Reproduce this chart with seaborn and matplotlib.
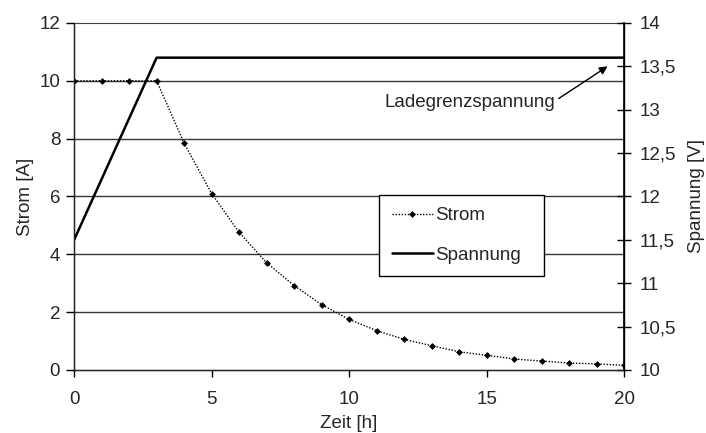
import numpy as np
import pandas as pd
import matplotlib
matplotlib.use("Agg")
import matplotlib.pyplot as plt
import seaborn as sns

# --- Data ---
zeit = list(range(0, 21))
strom = [10, 10, 10, 10, 7.84, 6.1, 4.76, 3.71, 2.92, 2.26, 1.75,
         1.36, 1.06, 0.84, 0.63, 0.51, 0.38, 0.31, 0.24, 0.21, 0.16]
spannung_zeit = [0, 3, 20]
spannung = [11.5, 13.6, 13.6]

df_i = pd.DataFrame({"Zeit": zeit, "Strom": strom})
df_u = pd.DataFrame({"Zeit": spannung_zeit, "Spannung": spannung})

sns.set_style("white")
plt.rcParams['font.family'] = ['Liberation Sans', 'DejaVu Sans']
plt.rcParams['font.size'] = 13.5

fig = plt.figure(figsize=(7.06, 4.33), dpi=100)
ax = fig.add_axes([0.105, 0.1455, 0.779, 0.8015])

# horizontal grid lines
for yv in [2, 4, 6, 8, 10]:
    ax.axhline(yv, color="#2f3a33", lw=1.0, zorder=0)

sns.lineplot(data=df_i, x="Zeit", y="Strom", ax=ax, color="black",
             linestyle=(0, (1, 1.2)), lw=1.0, marker="D", markersize=3.5,
             markeredgewidth=0, label="Strom", legend=False, zorder=3)

ax.set_xlim(0, 20)
ax.set_ylim(0, 12)
ax.set_xticks([0, 5, 10, 15, 20])
ax.set_yticks(range(0, 13, 2))
ax.set_xlabel("Zeit [h]", labelpad=5)
ax.set_ylabel("Strom [A]", labelpad=4)
ax.tick_params(axis="y", direction="out", length=6, width=1, color="black", left=True, pad=4)
ax.tick_params(axis="x", direction="out", length=5, width=1, color="black", bottom=True, pad=10)

for side in ["left", "right", "bottom"]:
    ax.spines[side].set_color("black")
    ax.spines[side].set_linewidth(1.0)
ax.spines["top"].set_linestyle((0, (1, 1)))
ax.spines["top"].set_color("#444444")

ax2 = ax.twinx()
sns.lineplot(data=df_u, x="Zeit", y="Spannung", ax=ax2, color="black",
             lw=1.8, label="Spannung", legend=False)
ax2.set_ylim(10, 14)
ax2.set_yticks([10, 10.5, 11, 11.5, 12, 12.5, 13, 13.5, 14])
ax2.set_yticklabels(["10", "10,5", "11", "11,5", "12", "12,5", "13", "13,5", "14"])
ax2.set_ylabel("Spannung [V]", labelpad=9)
ax2.tick_params(axis="y", direction="inout", length=10, width=1, color="black", right=True, pad=6)
ax2.spines["top"].set_visible(False)
ax2.spines["right"].set_color("black")
ax2.spines["right"].set_linewidth(1.2)

ax2.annotate("Ladegrenzspannung", xy=(19.4, 13.5), xytext=(17.5, 13.08),
             ha="right", va="center",
             arrowprops=dict(arrowstyle="-|>", color="black", lw=1.0,
                             mutation_scale=12, shrinkA=0, shrinkB=0,
                             relpos=(1.02, 0.75)))

h1, l1 = ax.get_legend_handles_labels()
h2, l2 = ax2.get_legend_handles_labels()
leg = ax2.legend(h1 + h2, l1 + l2, loc="lower left",
                 bbox_to_anchor=(0.555, 0.271, 0.30, 0.236), mode="expand",
                 frameon=True, fancybox=False,
                 edgecolor="black", framealpha=1, handlelength=2.2,
                 labelspacing=1.2, borderpad=0.65, numpoints=1,
                 handletextpad=0.1, borderaxespad=0)
leg.get_frame().set_linewidth(1.0)

fig.savefig("out.png", dpi=100)
